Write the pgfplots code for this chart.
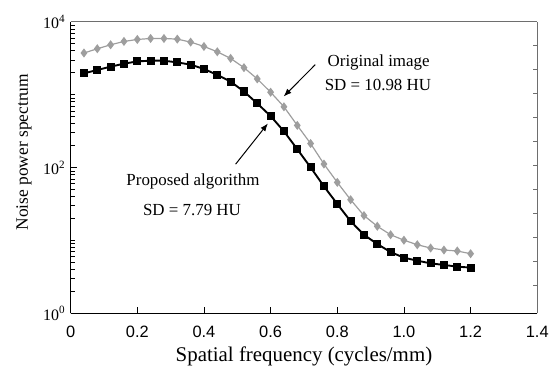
\documentclass[border=0pt]{standalone}
\usepackage{fontspec}
\setmainfont{Liberation Serif}
\newfontfamily\arial{Liberation Sans}
\usepackage{pgfplots}
\pgfplotsset{compat=1.18}
\usetikzlibrary{arrows.meta}
\definecolor{ltgray}{RGB}{158,158,158}
\definecolor{frame}{RGB}{110,110,110}
\begin{document}
\begin{tikzpicture}
\begin{axis}[
  name=main,
  scale only axis,
  width=469pt, height=293pt,
  xmin=0, xmax=1.4,
  ymode=log, ymin=1, ymax=10000,
  axis x line*=bottom, axis y line*=left,
  axis line style={-, line width=1.4pt, black},
  xtick={0,0.2,0.4,0.6,0.8,1.0,1.2,1.4},
  xticklabels={0,0.2,0.4,0.6,0.8,1.0,1.2,1.4},
  xticklabel style={font=\arial\fontsize{16.5}{16.5}\selectfont, yshift=-9pt},
  ytick={1,100,10000},
  yticklabels={10\textsuperscript{0},10\textsuperscript{2},10\textsuperscript{4}},
  yticklabel style={font=\fontsize{16}{16}\selectfont, xshift=-2pt},
  minor ytick={2,3,4,5,6,7,8,9,10,20,30,40,50,60,70,80,90,200,300,400,500,600,700,800,900,1000,2000,3000,4000,5000,6000,7000,8000,9000},
  tick align=inside,
  major tick length=6pt, minor tick length=4pt,
  tick style={black, line width=0.8pt},
  xlabel={Spatial frequency (cycles/mm)},
  xlabel style={font=\fontsize{21}{21}\selectfont, at={(axis description cs:0.5,-0.146)}, anchor=center},
  ylabel={Noise power spectrum},
  ylabel style={font=\fontsize{17.5}{17.5}\selectfont, at={(axis description cs:-0.1000,0.553)}, anchor=center},
  clip=false,
]
\addplot[color=ltgray, line width=1.2pt, mark=diamond*, mark size=3.6pt, mark options={solid, fill=ltgray, draw=ltgray}] coordinates {
(0.04,3740)(0.08,4280)(0.12,4850)(0.16,5390)(0.20,5740)(0.24,5920)(0.28,5920)(0.32,5800)(0.36,5280)(0.40,4600)
(0.44,3890)(0.48,3155)(0.52,2355)(0.56,1650)(0.60,1084)(0.64,684)(0.68,380)(0.72,214)(0.76,112)(0.80,62.8)
(0.84,36.3)(0.88,22.0)(0.92,15.7)(0.96,12.0)(1.00,10.1)(1.04,8.75)(1.08,7.89)(1.12,7.41)(1.16,7.18)(1.20,6.59)};
\addplot[color=black, line width=1.9pt, mark=square*, mark size=3.1pt, mark options={solid, fill=black}] coordinates {
(0.04,1970)(0.08,2190)(0.12,2430)(0.16,2670)(0.20,2870)(0.24,2935)(0.28,2935)(0.32,2780)(0.36,2590)(0.40,2260)
(0.44,1870)(0.48,1517)(0.52,1108)(0.56,760)(0.60,510)(0.64,315)(0.68,179)(0.72,100.7)(0.76,55.4)(0.80,31.7)
(0.84,18.4)(0.88,12.0)(0.92,8.94)(0.96,6.95)(1.00,5.81)(1.04,5.29)(1.08,4.86)(1.12,4.62)(1.16,4.38)(1.20,4.25)};
\node[font=\fontsize{17}{17}\selectfont] at (axis cs:0.924,2755) {Original image};
\node[font=\fontsize{17}{17}\selectfont] at (axis cs:0.922,1380) {SD = 10.98 HU};
\node[font=\fontsize{17}{17}\selectfont] at (axis cs:0.367,65.4) {Proposed algorithm};
\node[font=\fontsize{17}{17}\selectfont] at (axis cs:0.364,26.3) {SD = 7.79 HU};
\draw[line width=1pt, -{Latex[length=8pt,width=6pt]}] (axis cs:0.734,2590) -- (axis cs:0.639,946);
\draw[line width=1pt, -{Latex[length=8pt,width=6pt]}] (axis cs:0.495,111.6) -- (axis cs:0.592,405);
\end{axis}
\begin{axis}[
  scale only axis,
  width=469pt, height=293pt,
  xmin=0, xmax=1.4, ymin=0, ymax=291.3,
  axis x line*=top, axis y line*=right,
  axis line style={-, line width=1pt, frame},
  xtick=\empty,
  ytick={27.7,51.7,75.7,99.7,123.7,147.7,171.7,195.7,219.7,243.7,267.7},
  yticklabels={},
  tick align=inside, major tick length=4pt,
  tick style={frame, line width=0.8pt},
]
\end{axis}
\path ([xshift=-71pt,yshift=-51pt]main.south west) rectangle ([xshift=12pt,yshift=22pt]main.north east);
\end{tikzpicture}
\end{document}
